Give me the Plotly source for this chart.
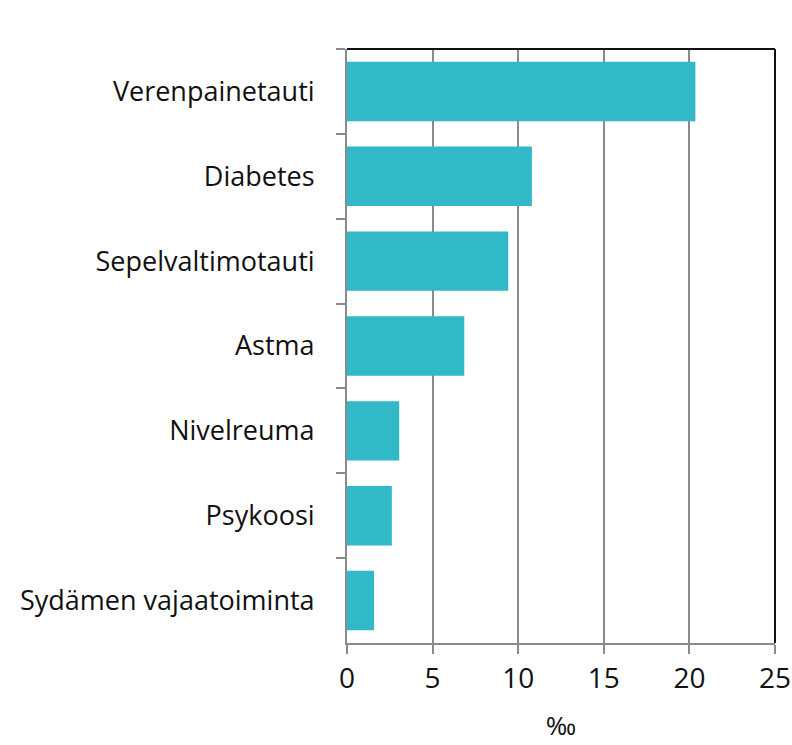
import plotly.graph_objects as go

# sairaudet ja esiintyvyys promilleina
sairaudet = ['Verenpainetauti', 'Diabetes', 'Sepelvaltimotauti', 'Astma',
             'Nivelreuma', 'Psykoosi', 'Sydämen vajaatoiminta']
promillet = [20.35, 10.8, 9.42, 6.85, 3.05, 2.62, 1.58]
x_ticks = [0, 5, 10, 15, 20, 25]

fig = go.Figure(go.Bar(
    x=promillet, y=sairaudet, orientation='h',
    marker=dict(color='#32B9C7', line=dict(width=0))))

fig.update_layout(
    width=792, height=745,
    margin=dict(l=347, r=17, t=49, b=102),
    plot_bgcolor='white', paper_bgcolor='white',
    font=dict(family='Open Sans', size=25, color='#111'),
    bargap=0.3, showlegend=False,
)
fig.update_xaxes(
    range=[0, 25], tickvals=x_ticks, showgrid=True, gridcolor='#8a8a8a', gridwidth=1.5,
    showline=True, linecolor='#8a8a8a', linewidth=2, zeroline=False,
    ticks='outside', ticklen=9, tickcolor='#8a8a8a', tickwidth=2,
    title=dict(text='‰', standoff=22, font=dict(size=26)),
    tickfont=dict(size=28), automargin=False,
)
fig.update_yaxes(
    categoryorder='array', categoryarray=sairaudet, autorange='reversed',
    tickson='boundaries', ticks='outside', ticklen=9, tickcolor='#8a8a8a', tickwidth=2,
    showline=True, linecolor='#8a8a8a', linewidth=2, showgrid=False,
    ticklabelstandoff=25, tickfont=dict(size=27), automargin=False,
)
# musta kehys ylä- ja oikealla reunalla
fig.add_shape(type='line', xref='paper', yref='paper', x0=0, x1=1, y0=1, y1=1,
              line=dict(color='#111', width=2))
fig.add_shape(type='line', xref='paper', yref='paper', x0=1, x1=1, y0=0, y1=1,
              line=dict(color='#111', width=2))

# sivun oletusmarginaali pois, jotta kuva mahtuu ikkunaan
fig.write_html('out.html', config={'displayModeBar': False},
               post_script="document.body.style.margin='0';")
